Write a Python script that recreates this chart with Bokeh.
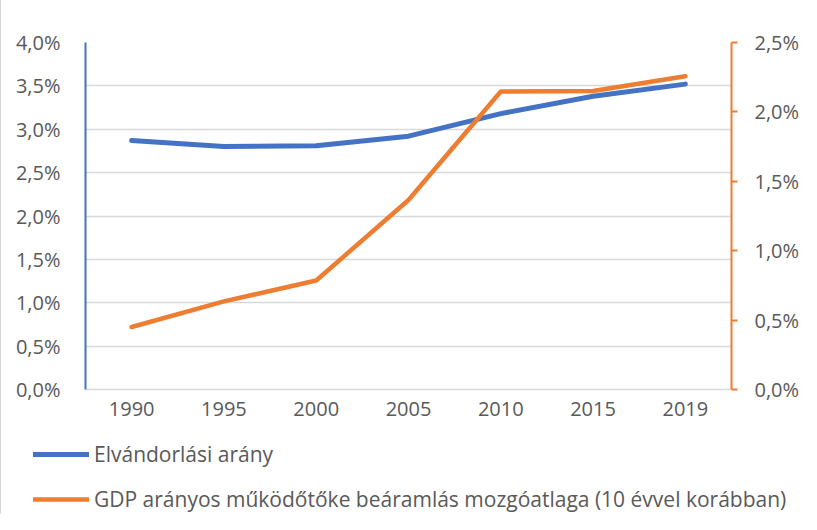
from bokeh.plotting import figure
from bokeh.models import (Range1d, FactorRange, LinearAxis, FixedTicker, CustomJSTickFormatter,
                          Legend, LegendItem)
from bokeh.embed import file_html
from bokeh.resources import INLINE

years = ["1990", "1995", "2000", "2005", "2010", "2015", "2019"]
elvandorlas = [2.87, 2.80, 2.81, 2.92, 3.18, 3.38, 3.52]      # left axis, %
gdp_fdi = [0.45, 0.635, 0.785, 1.365, 2.147, 2.15, 2.257]       # right axis, %
left_ticks = [0, 0.5, 1, 1.5, 2, 2.5, 3, 3.5, 4]
right_ticks = [0, 0.5, 1, 1.5, 2, 2.5]
label_blue = "Elvándorlási arány"
label_orange = "GDP arányos működőtőke beáramlás mozgóatlaga (10 évvel korábban)"

BLUE = "#4472C4"
ORANGE = "#ED7D31"
GRAY = "#595959"
GRID = "#D9D9D9"
FONT = "Open Sans"
FS = "20px"

p = figure(width=801, height=425, x_range=FactorRange(factors=years),
           y_range=Range1d(0, 4), output_backend="svg", toolbar_location=None,
           min_border_left=84, min_border_right=56, min_border_top=42, min_border_bottom=36)
p.outline_line_color = None
p.extra_y_ranges = {"right": Range1d(0, 2.5)}

fmt = CustomJSTickFormatter(code="return tick.toFixed(1).replace('.', ',') + '%';")

ya = p.yaxis[0]
ya.ticker = FixedTicker(ticks=left_ticks)
ya.formatter = fmt
ya.axis_line_color = BLUE
ya.axis_line_width = 2
ya.major_tick_line_color = None
ya.minor_tick_line_color = None
ya.major_label_text_color = GRAY
ya.major_label_text_font = FONT
ya.major_label_text_font_size = FS
ya.major_label_standoff = 19

ra = LinearAxis(y_range_name="right", ticker=FixedTicker(ticks=right_ticks), formatter=fmt)
ra.axis_line_color = ORANGE
ra.axis_line_width = 2
ra.major_tick_line_color = ORANGE
ra.major_tick_line_width = 2
ra.major_tick_out = 6
ra.major_tick_in = 0
ra.minor_tick_line_color = None
ra.major_label_text_color = GRAY
ra.major_label_text_font = FONT
ra.major_label_text_font_size = FS
ra.major_label_standoff = 17
p.add_layout(ra, "right")

xa = p.xaxis[0]
xa.axis_line_color = GRID
xa.axis_line_width = 1.5
xa.major_tick_line_color = None
xa.minor_tick_line_color = None
xa.major_label_text_color = GRAY
xa.major_label_text_font = FONT
xa.major_label_text_font_size = FS
xa.major_label_standoff = 6

p.xgrid.grid_line_color = None
p.ygrid.ticker = FixedTicker(ticks=left_ticks)
p.ygrid.grid_line_color = GRID
p.ygrid.grid_line_width = 1.5

p.line(years, elvandorlas, line_color=BLUE, line_width=5, line_cap="round", line_join="round")
p.line(years, gdp_fdi, line_color=ORANGE, line_width=4.5, line_cap="round", line_join="round",
       y_range_name="right")

# legend panel below the chart (separate root so its frame spans its full width)
lg = figure(width=801, height=89, x_range=FactorRange(factors=years), y_range=Range1d(100, 101),
            output_backend="svg", toolbar_location=None,
            x_axis_location=None, y_axis_location=None,
            min_border_left=0, min_border_right=0, min_border_top=0, min_border_bottom=0)
lg.outline_line_color = None
lg.grid.grid_line_color = None
s1 = lg.line(years, elvandorlas, line_color=BLUE, line_width=5, line_cap="round")
s2 = lg.line(years, gdp_fdi, line_color=ORANGE, line_width=4.5, line_cap="round")
legend = Legend(items=[LegendItem(label=label_blue, renderers=[s1]),
                       LegendItem(label=label_orange, renderers=[s2])],
                location=(32, 1), orientation="vertical",
                border_line_color=None, background_fill_alpha=0,
                glyph_width=56, glyph_height=24, label_height=24, label_standoff=5,
                spacing=17, padding=0, margin=0,
                label_text_color=GRAY, label_text_font=FONT, label_text_font_size="21px")
lg.add_layout(legend, "center")

p.styles = {"border-left": "1px solid #D9D9D9"}
lg.styles = {"border-left": "1px solid #D9D9D9"}

open("out.html", "w").write(file_html([p, lg], INLINE))
